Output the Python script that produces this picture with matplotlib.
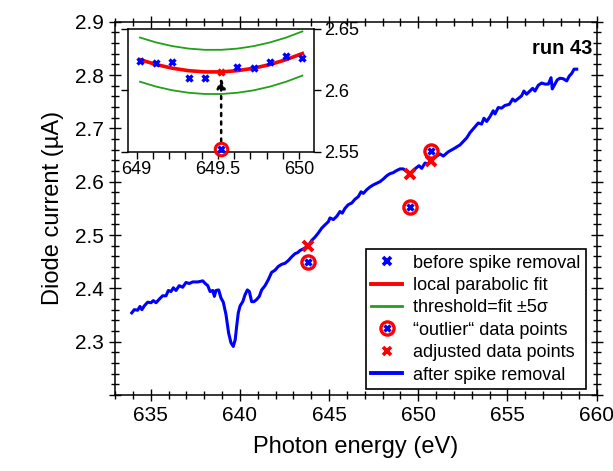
import matplotlib
matplotlib.use("Agg")
import matplotlib.pyplot as plt
from matplotlib.ticker import MultipleLocator, FuncFormatter
from matplotlib.legend_handler import HandlerTuple
from matplotlib.lines import Line2D

# main spectrum after spike removal
energy = [633.94, 634.08, 634.27, 634.40, 634.51, 634.64, 634.83, 635.02, 635.15, 635.30,
          635.49, 635.67, 635.86, 635.99, 636.14, 636.27, 636.42, 636.60, 636.79, 636.98,
          637.16, 637.36, 637.64, 637.92, 638.06, 638.20, 638.33, 638.48, 638.57, 638.66,
          638.81, 638.94, 639.07, 639.22, 639.37, 639.50, 639.63, 639.74, 639.82, 639.91,
          640.01, 640.16, 640.29, 640.42, 640.53, 640.66, 640.79, 640.94, 641.09, 641.22,
          641.41, 641.59, 641.78, 641.97, 642.15, 642.34, 642.53, 642.71, 642.90, 643.09,
          643.24, 643.37, 643.56, 643.84, 644.03, 644.21, 644.40, 644.59, 644.77, 644.96,
          645.05, 645.24, 645.43, 645.61, 645.74, 645.89, 646.08, 646.27, 646.45, 646.64,
          646.79, 646.92, 647.11, 647.29, 647.48, 647.67, 647.85, 648.04, 648.23, 648.41,
          648.60, 648.79, 648.98, 649.16, 649.35, 649.52, 649.66, 649.85, 650.04, 650.19,
          650.38, 650.55, 650.71, 650.94, 651.22, 651.40, 651.68, 652.00, 652.34, 652.71,
          652.90, 653.18, 653.36, 653.55, 653.68, 653.83, 654.02, 654.20, 654.30, 654.48,
          654.67, 654.86, 655.10, 655.29, 655.42, 655.61, 655.79, 655.92, 656.07, 656.26,
          656.41, 656.54, 656.73, 656.92, 657.10, 657.29, 657.44, 657.51, 657.66, 657.79,
          657.94, 658.13, 658.32, 658.46, 658.60, 658.73, 658.88]
current = [2.354, 2.360, 2.359, 2.366, 2.360, 2.367, 2.374, 2.373, 2.377, 2.373,
           2.380, 2.386, 2.386, 2.396, 2.394, 2.401, 2.396, 2.405, 2.402, 2.411,
           2.409, 2.412, 2.412, 2.414, 2.409, 2.405, 2.394, 2.396, 2.385, 2.396,
           2.397, 2.382, 2.374, 2.351, 2.316, 2.298, 2.291, 2.304, 2.329, 2.354,
           2.367, 2.375, 2.388, 2.397, 2.394, 2.375, 2.375, 2.379, 2.385, 2.397,
           2.405, 2.416, 2.430, 2.434, 2.441, 2.445, 2.447, 2.452, 2.459, 2.465,
           2.467, 2.471, 2.474, 2.480, 2.490, 2.496, 2.504, 2.513, 2.519, 2.525,
           2.532, 2.529, 2.535, 2.544, 2.541, 2.550, 2.557, 2.560, 2.567, 2.572,
           2.581, 2.578, 2.585, 2.590, 2.594, 2.597, 2.600, 2.605, 2.611, 2.615,
           2.617, 2.621, 2.624, 2.624, 2.619, 2.615, 2.619, 2.625, 2.630, 2.625,
           2.635, 2.633, 2.638, 2.646, 2.652, 2.648, 2.656, 2.662, 2.669, 2.682,
           2.692, 2.703, 2.710, 2.708, 2.719, 2.713, 2.722, 2.733, 2.727, 2.739,
           2.738, 2.743, 2.745, 2.755, 2.751, 2.756, 2.761, 2.770, 2.764, 2.770,
           2.775, 2.770, 2.781, 2.785, 2.783, 2.783, 2.795, 2.774, 2.783, 2.791,
           2.794, 2.793, 2.789, 2.798, 2.803, 2.811, 2.811]

# spikes
outlier_x = [643.84, 649.52, 650.71]
outlier_y = [2.450, 2.552, 2.658]
adjusted_y = [2.480, 2.615, 2.638]

# zoomed region around 649.5 eV
zoom_x = [649.02, 649.12, 649.22, 649.32, 649.42, 649.52, 649.62, 649.72, 649.82, 649.92, 650.02]
zoom_raw = [2.624, 2.622, 2.623, 2.610, 2.610, 2.552, 2.619, 2.618, 2.623, 2.628, 2.626]
zoom_fit = [2.625, 2.621, 2.618, 2.616, 2.615, 2.615, 2.616, 2.618, 2.621, 2.625, 2.630]
sigma = 0.0036

plt.rcParams['font.family'] = ['Liberation Sans', 'DejaVu Sans']

fig = plt.figure(figsize=(6.13, 4.71), dpi=100)
ax = fig.add_axes([0.1876, 0.1614, 0.7858, 0.7925])

blue = '#0000ff'
red = '#ff0000'
green = '#22a01a'

ax.plot(energy, current, color=blue, lw=2.2)
ax.plot(outlier_x, outlier_y, 'o', ms=9.5, mfc='none', mec=red, mew=2.4, zorder=4)
ax.plot(outlier_x, outlier_y, 'x', ms=5, color=blue, mew=2.4, zorder=5)
ax.plot(outlier_x, adjusted_y, 'x', ms=6.5, color=red, mew=2.8, zorder=5)

ax.set_xlim(633, 660)
ax.set_ylim(2.2, 2.9)
ax.xaxis.set_major_locator(MultipleLocator(5))
ax.xaxis.set_minor_locator(MultipleLocator(1))
ax.yaxis.set_major_locator(MultipleLocator(0.1))
ax.yaxis.set_minor_locator(MultipleLocator(0.02))
ax.yaxis.set_major_formatter(FuncFormatter(lambda v, p: '' if v < 2.25 else '%g' % round(v, 3)))
ax.tick_params(which='both', direction='inout', top=True, right=True, labelsize=15, width=1)
ax.tick_params(which='major', length=9)
ax.tick_params(which='minor', length=6)
for s in ax.spines.values():
    s.set_linewidth(1.1)
ax.set_xlabel('Photon energy (eV)', fontsize=17, labelpad=8)
ax.set_ylabel('Diode current (µA)', fontsize=17, labelpad=8)
ax.text(0.99, 0.955, 'run 43', transform=ax.transAxes, ha='right', va='top',
        fontsize=14.5, fontweight='bold')

h_raw = Line2D([], [], ls='none', marker='x', ms=6, color=blue, mew=2.6)
h_fit = Line2D([], [], color=red, lw=2.8)
h_thr = Line2D([], [], color=green, lw=2)
h_out = (Line2D([], [], ls='none', marker='o', ms=9.5, mfc='none', mec=red, mew=2.4),
         Line2D([], [], ls='none', marker='x', ms=5, color=blue, mew=2.4))
h_adj = Line2D([], [], ls='none', marker='x', ms=6, color=red, mew=2.6)
h_after = Line2D([], [], color=blue, lw=2.8)
leg = ax.legend([h_raw, h_fit, h_thr, h_out, h_adj, h_after],
                ['before spike removal', 'local parabolic fit', 'threshold=fit ±5σ',
                 '“outlier“ data points', 'adjusted data points', 'after spike removal'],
                handler_map={tuple: HandlerTuple(ndivide=1, pad=0)},
                loc='lower right', bbox_to_anchor=(0.977, 0.016), fontsize=13,
                handlelength=1.7, handletextpad=0.6, labelspacing=0.3,
                borderpad=0.3, borderaxespad=0, fancybox=False, framealpha=1)
leg.get_frame().set_edgecolor('black')
leg.get_frame().set_linewidth(1.2)

# inset
ins = fig.add_axes([0.2093, 0.678, 0.303, 0.2605])
upper = [f + 5 * sigma for f in zoom_fit]
lower = [f - 5 * sigma for f in zoom_fit]
ins.plot(zoom_x, upper, color=green, lw=1.3)
ins.plot(zoom_x, lower, color=green, lw=1.3)
ins.plot(zoom_x, zoom_fit, color=red, lw=2.6)
ins.plot(zoom_x, zoom_raw, 'x', ms=5, color=blue, mew=2.4, clip_on=False, zorder=5)
ins.plot([outlier_x[1]], [outlier_y[1]], 'o', ms=9, mfc='none', mec=red, mew=2.2,
         clip_on=False, zorder=4)
ins.plot([outlier_x[1]], [adjusted_y[1]], 'x', ms=5, color=red, mew=2.4, zorder=6)
ins.annotate('', xy=(outlier_x[1], 2.6125), xytext=(outlier_x[1], outlier_y[1] + 0.004),
             arrowprops=dict(arrowstyle='-|>,head_length=0.6,head_width=0.25',
                             color='black', ls=(0, (1.2, 2.2)), lw=1.8))
ins.set_xlim(648.948, 650.092)
ins.set_ylim(2.55, 2.65)
ins.xaxis.set_major_locator(MultipleLocator(0.5))
ins.xaxis.set_minor_locator(MultipleLocator(0.1))
ins.yaxis.set_major_locator(MultipleLocator(0.05))
fmt = FuncFormatter(lambda v, p: '%g' % round(v, 3))
ins.xaxis.set_major_formatter(fmt)
ins.yaxis.set_major_formatter(fmt)
ins.yaxis.tick_right()
ins.tick_params(which='both', direction='out', left=True, right=True, labelleft=False,
                labelright=True, labelsize=13, length=5, width=1, pad=2)
for s in ins.spines.values():
    s.set_linewidth(1.1)

fig.savefig('out.png', dpi=100)
